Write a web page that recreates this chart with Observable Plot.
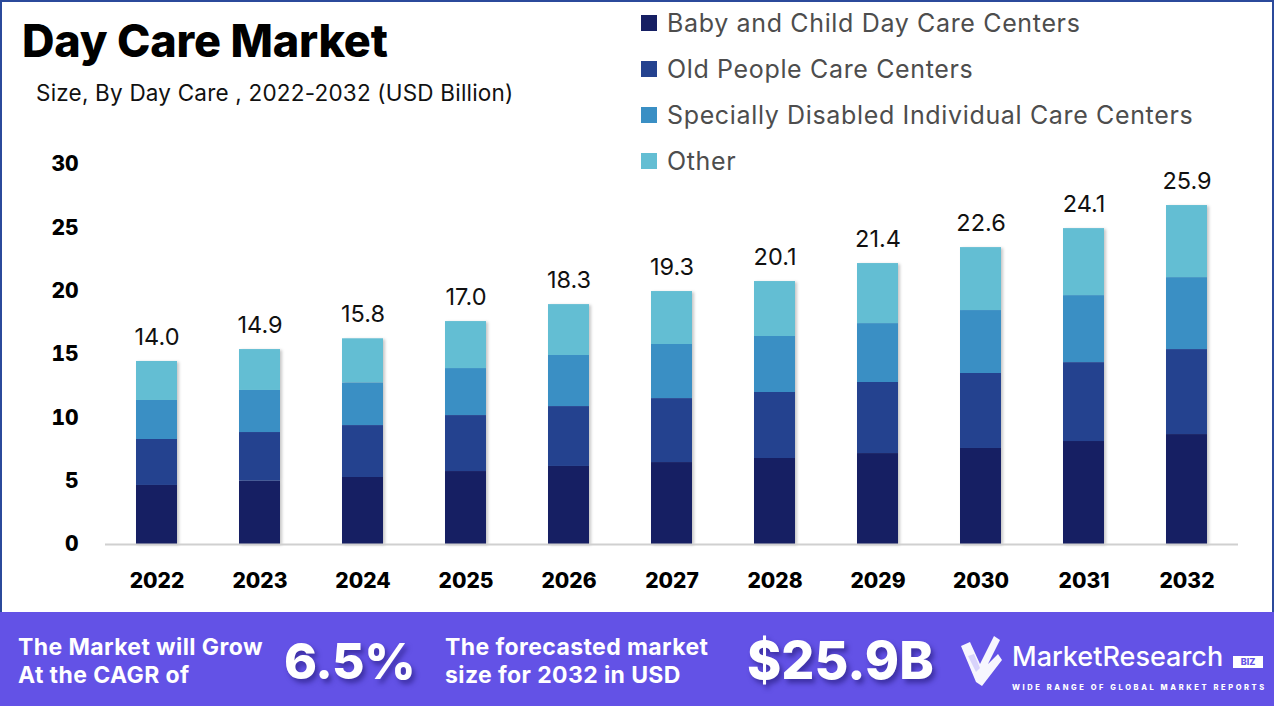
<!DOCTYPE html>
<html>
<head>
<meta charset="utf-8">
<script src="https://cdn.jsdelivr.net/npm/d3@7"></script>
<script src="https://cdn.jsdelivr.net/npm/@observablehq/plot@0.6"></script>
<style>
  html, body { margin: 0; padding: 0; background: #fff; }
  #wrap { position: relative; width: 1280px; height: 711px; overflow: hidden; font-family: Inter, "Open Sans", sans-serif; }
  #frame { position: absolute; left: 0; top: 0; width: 1270px; height: 612px; border: 2px solid #2b4a9b; border-bottom: none; box-sizing: content-box; }
  #title { position: absolute; left: 22px; top: 13px; font-size: 45px; font-weight: 800; color: #000; letter-spacing: -0.2px; white-space: nowrap; }
  #subtitle { position: absolute; left: 36px; top: 79px; font-size: 22.5px; font-weight: 400; color: #111; white-space: nowrap; letter-spacing: 0.2px; }
  #legend { position: absolute; left: 641px; top: 8px; }
  .lg { position: absolute; left: 0; height: 30px; white-space: nowrap; font-size: 25px; color: #4d4d4d; letter-spacing: 0.65px; }
  .lg span.sw { position: absolute; left: 0; top: 7px; width: 16px; height: 16px; }
  .lg span.tx { position: absolute; left: 26px; top: 0; line-height: 30px; }
  #chart { position: absolute; left: 0; top: 140px; }
  #banner { position: absolute; left: 0; top: 612px; width: 1274px; height: 94px; background: #6352e6; color: #fff; }
  .b2 { position: absolute; font-weight: 700; font-size: 23px; line-height: 28px; white-space: nowrap; letter-spacing: 0.4px; }
  .big { position: absolute; font-weight: 800; font-size: 52px; line-height: 60px; white-space: nowrap; text-shadow: 3px 4px 5px rgba(30,20,110,0.55); }
</style>
</head>
<body>
<div id="wrap">
  <div id="frame"></div>
  <div id="title">Day Care Market</div>
  <div id="subtitle">Size, By Day Care , 2022-2032 (USD Billion)</div>
  <div id="legend"></div>
  <div id="chart"></div>
  <div id="banner">
    <div class="b2" style="left:18px; top:21px;">The Market will Grow<br>At the CAGR of</div>
    <div class="big" style="left:284px; top:19px; font-size:50px; letter-spacing:-0.5px;">6.5%</div>
    <div class="b2" style="left:445px; top:21px;">The forecasted market<br>size for 2032 in USD</div>
    <div class="big" style="left:747px; top:19px;">$25.9B</div>
    <svg style="position:absolute; left:958px; top:22px;" width="48" height="54" viewBox="0 0 48 54">
      <path d="M3 12 L12 8 L22 30 L36 2 L42 6 L30 30 L40 20 L44 26 L24 52 L18 48 Z" fill="#fff" opacity="0.95"/>
      <path d="M10 22 L16 20 L22 34 L18 38 Z" fill="#d8d3fb"/>
    </svg>
    <div style="position:absolute; left:1012px; top:29px; font-size:27px; font-weight:500; letter-spacing:0px; white-space:nowrap; line-height:32px;">MarketResearch</div>
    <div style="position:absolute; left:1233px; top:44px; width:30px; height:12px; background:#fff; color:#6352e6; font-size:9px; font-weight:800; text-align:center; line-height:12px;">BIZ</div>
    <div style="position:absolute; left:1012px; top:71px; font-size:7.5px; font-weight:800; letter-spacing:2.6px; white-space:nowrap;">WIDE RANGE OF GLOBAL MARKET REPORTS</div>
  </div>
</div>
<script>
// ---- data ----
const years = ["2022","2023","2024","2025","2026","2027","2028","2029","2030","2031","2032"];
const segments = ["Baby and Child Day Care Centers","Old People Care Centers","Specially Disabled Individual Care Centers","Other"];
const segmentColors = ["#161f63","#24428f","#3a8fc4","#63bed3"];
const babyChild = [4.66, 5.00, 5.29, 5.76, 6.16, 6.47, 6.79, 7.18, 7.58, 8.13, 8.68];
const oldPeople = [3.63, 3.84, 4.10, 4.42, 4.73, 5.05, 5.21, 5.61, 5.92, 6.23, 6.71];
const disabled  = [3.08, 3.32, 3.37, 3.71, 4.03, 4.27, 4.42, 4.65, 4.97, 5.29, 5.68];
const other     = [3.08, 3.23, 3.48, 3.71, 4.02, 4.18, 4.34, 4.74, 4.97, 5.29, 5.69];
const totalLabels = [14.0, 14.9, 15.8, 17.0, 18.3, 19.3, 20.1, 21.4, 22.6, 24.1, 25.9];
const yTicks = [0, 5, 10, 15, 20, 25, 30];

// ---- legend ----
const legend = document.getElementById("legend");
segments.forEach((s, i) => {
  const row = document.createElement("div");
  row.className = "lg";
  row.style.top = (i * 46) + "px";
  row.innerHTML = `<span class="sw" style="background:${segmentColors[i]}"></span><span class="tx">${s}</span>`;
  legend.appendChild(row);
});

// ---- table ----
const seriesValues = [babyChild, oldPeople, disabled, other];
const long = [];
years.forEach((y, j) => {
  segments.forEach((s, i) => long.push({year: y, segment: s, value: seriesValues[i][j]}));
});
const tops = years.map((y, j) => ({
  year: y,
  top: seriesValues.reduce((a, arr) => a + arr[j], 0),
  label: totalLabels[j]
}));

const fontFam = "Inter, 'Open Sans', sans-serif";
const chart = Plot.plot({
  width: 1280,
  height: 470,
  marginLeft: 105,
  marginRight: 42,
  marginTop: 24,
  marginBottom: 66,
  style: {fontFamily: fontFam, background: "transparent", overflow: "visible"},
  x: {type: "band", domain: years, paddingInner: 0.6, paddingOuter: 0.3, label: null},
  y: {domain: [0, 30], label: null},
  color: {domain: segments, range: segmentColors},
  marks: [
    Plot.barY(long, {x: "year", y: "value", fill: "segment", order: segments}),
    Plot.ruleY([0], {stroke: "#d0d0d0", strokeWidth: 2}),
    Plot.text(tops, {x: "year", y: "top", text: d => d.label.toFixed(1), dy: -24, fontSize: 23.5, fill: "#111", fontWeight: 400}),
    Plot.axisY({ticks: yTicks, tickSize: 0, tickPadding: 27, fontSize: 21, fontWeight: 800, fill: "#000", label: null}),
    Plot.axisX({tickSize: 0, tickPadding: 29, fontSize: 21, fontWeight: 800, fill: "#000", label: null})
  ]
});
document.getElementById("chart").appendChild(chart);
d3.select(chart).selectAll('g[aria-label="bar"]').style("filter", "drop-shadow(2px 1px 1.5px rgba(0,0,0,0.22))");
</script>
</body>
</html>
